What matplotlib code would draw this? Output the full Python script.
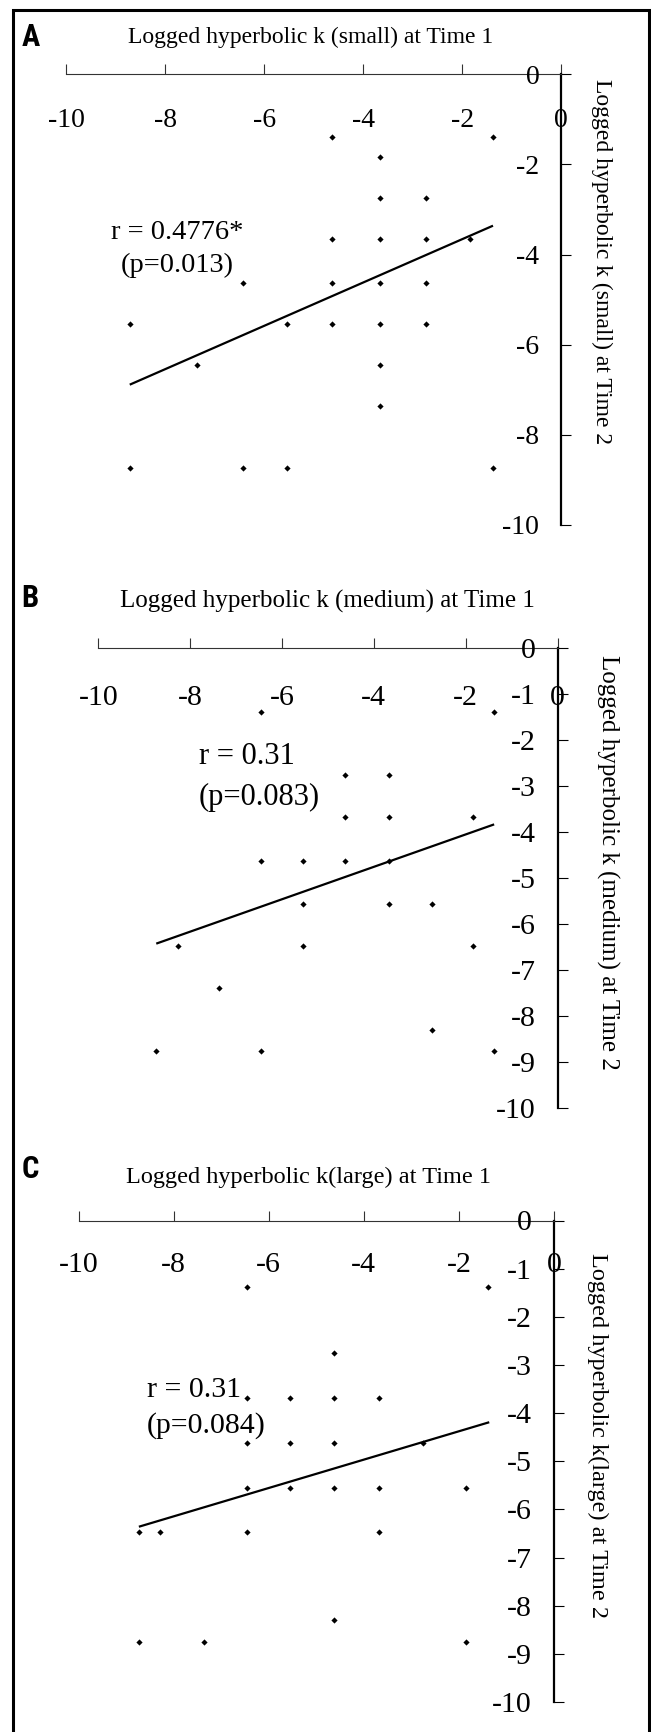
import numpy as np
import matplotlib
matplotlib.use("Agg")
import matplotlib.pyplot as plt
from matplotlib import font_manager
from matplotlib.lines import Line2D
from matplotlib.transforms import offset_copy

# ---- data (log k, Time 1 vs Time 2) ----
small_t1 = [-4.63, -1.38, -3.66, -3.66, -2.74, -4.63, -3.66, -2.74, -1.85,
            -6.44, -4.63, -3.66, -2.74, -8.72, -5.55, -4.63, -3.66, -2.74,
            -7.36, -3.66, -3.66, -8.72, -6.44, -5.55, -1.38]
small_t2 = [-1.38, -1.38, -1.84, -2.74, -2.74, -3.66, -3.66, -3.66, -3.66,
            -4.63, -4.63, -4.63, -4.63, -5.55, -5.55, -5.55, -5.55, -5.55,
            -6.45, -6.45, -7.37, -8.75, -8.75, -8.75, -8.75]

medium_t1 = [-6.45, -1.38, -4.62, -3.67, -4.62, -3.67, -1.84, -6.45, -5.55,
             -4.62, -3.67, -5.55, -3.67, -2.73, -8.27, -5.55, -1.84, -7.37,
             -2.73, -8.74, -6.45, -1.38]
medium_t2 = [-1.38, -1.38, -2.75, -2.75, -3.67, -3.67, -3.67, -4.63, -4.63,
             -4.63, -4.63, -5.56, -5.56, -5.56, -6.47, -6.47, -6.47, -7.38,
             -8.29, -8.75, -8.75, -8.75]

large_t1 = [-6.45, -1.39, -4.62, -6.45, -5.55, -4.62, -3.67, -6.45, -5.55,
            -4.62, -2.76, -6.45, -5.55, -4.62, -3.67, -1.84, -8.73, -8.28,
            -6.45, -3.67, -4.62, -8.73, -7.37, -1.84]
large_t2 = [-1.39, -1.39, -2.75, -3.68, -3.68, -3.68, -3.68, -4.63, -4.63,
            -4.63, -4.63, -5.56, -5.56, -5.56, -5.56, -5.56, -6.46, -6.46,
            -6.46, -6.46, -8.30, -8.75, -8.75, -8.75]

# fitted lines (slope, intercept) and the x span they cover
fit_small = (0.481, -2.696)
fit_medium = (0.352, -3.344)
fit_large = (0.2945, -3.789)
fit_span_small = [-8.72, -1.38]
fit_span_medium = [-8.74, -1.38]
fit_span_large = [-8.73, -1.36]

x_ticks = [-10, -8, -6, -4, -2, 0]
y_ticks_a = [0, -2, -4, -6, -8, -10]
y_ticks_bc = [0, -1, -2, -3, -4, -5, -6, -7, -8, -9, -10]

titles_x = ["Logged hyperbolic k (small) at Time 1",
            "Logged hyperbolic k (medium) at Time 1",
            "Logged hyperbolic k(large) at Time 1"]
titles_y = ["Logged hyperbolic k (small) at Time 2",
            "Logged hyperbolic k (medium) at Time 2",
            "Logged hyperbolic k(large) at Time 2"]
stats = ["r = 0.4776*\n(p=0.013)", "r = 0.31\n(p=0.083)", "r = 0.31\n(p=0.084)"]
letters = ["A", "B", "C"]

W, H = 651, 1733
SERIF = ["Liberation Serif", "DejaVu Serif"]

# narrow bold sans for the panel letters, if one is around
installed = {f.name for f in font_manager.fontManager.ttflist}
LETTER_FONT = next(n for n in ["Liberation Sans Narrow", "Roboto Condensed",
                               "Open Sans Condensed", "DejaVu Sans"]
                   if n in installed or n == "DejaVu Sans")

fig = plt.figure(figsize=(W / 100, H / 100), dpi=100)


def fx(px):
    return px / W


def fy(py):
    return 1 - py / H


# layout per panel (pixels): axes box, text anchors, font sizes
panels = [
    dict(box=(66.4, 561.3, 75.4, 525.7), xs=small_t1, ys=small_t2,
         fit=fit_small, span=fit_span_small, yt=y_ticks_a,
         letter=(31, 37), xt=(310.7, 37.7, 17), yl=(602, 261.5, 17),
         stat=(177, 249, 'center', 20.5, 1.45), tick=20, xoff=52),
    dict(box=(98.4, 557.5, 649.1, 1109.4), xs=medium_t1, ys=medium_t2,
         fit=fit_medium, span=fit_span_medium, yt=y_ticks_bc,
         letter=(30, 598), xt=(327, 601.8, 18), yl=(608, 862, 18),
         stat=(199, 777, 'left', 22, 1.55), tick=21.5, xoff=56),
    dict(box=(78.5, 553.9, 1221.5, 1703), xs=large_t1, ys=large_t2,
         fit=fit_large, span=fit_span_large, yt=y_ticks_bc,
         letter=(30, 1169), xt=(309, 1177, 17.5), yl=(598, 1436, 17.5),
         stat=(147, 1408, 'left', 21.5, 1.4), tick=21.5, xoff=50),
]

for i, p in enumerate(panels):
    left, right, top, bottom = p["box"]
    ax = fig.add_axes([fx(left), fy(bottom), fx(right - left), (bottom - top) / H])
    ax.set_xlim(-10, 0)
    ax.set_ylim(-10, 0)
    ax.patch.set_alpha(0)

    # axes cross at the top-right corner (Excel style)
    ax.spines["left"].set_visible(False)
    ax.spines["bottom"].set_visible(False)
    ax.spines["top"].set_linewidth(0.8)
    ax.spines["top"].set_color("#333333")
    ax.spines["right"].set_linewidth(1.6)
    ax.xaxis.set_ticks_position("top")
    ax.yaxis.set_ticks_position("right")
    ax.set_xticks(x_ticks)
    ax.set_yticks(p["yt"])
    ax.tick_params(axis="x", direction="out", length=7.5, width=0.8,
                   color="#333333", labeltop=False, labelbottom=False)
    ax.tick_params(axis="y", direction="out", length=7, width=0.8,
                   labelright=False, labelleft=False)

    # tick labels sit inside the plot area
    tx = offset_copy(ax.transData, fig=fig, y=-p["xoff"], units="dots")
    for v in x_ticks:
        ax.text(v, 0, f"{v}", transform=tx, ha="center", va="baseline",
                fontsize=p["tick"], family=SERIF, clip_on=False)
    ty = offset_copy(ax.transData, fig=fig, x=-22, y=-2, units="dots")
    for v in p["yt"]:
        ax.text(0, v, f"{v}", transform=ty, ha="right", va="center",
                fontsize=p["tick"], family=SERIF, clip_on=False)

    ax.scatter(p["xs"], p["ys"], marker="D", s=10, color="black",
               linewidths=0, zorder=3, clip_on=False)
    fx_line = np.array(p["span"])
    ax.plot(fx_line, np.polyval(p["fit"], fx_line), color="black", lw=1.6,
            solid_capstyle="butt", zorder=4)

    lx, ly = p["letter"]
    fig.text(fx(lx), fy(ly), letters[i], ha="center", va="center",
             fontsize=22, fontweight="bold", fontstretch="condensed",
             family=[LETTER_FONT])
    tx_, ty_, ts = p["xt"]
    fig.text(fx(tx_), fy(ty_), titles_x[i], ha="center", va="center",
             fontsize=ts, family=SERIF)
    yx, yy, ys = p["yl"]
    fig.text(fx(yx), fy(yy), titles_y[i], ha="center", va="center",
             rotation=-90, fontsize=ys, family=SERIF)
    sx, sy, sha, ss, lsp = p["stat"]
    fig.text(fx(sx), fy(sy), stats[i], ha=sha, va="center", multialignment=sha,
             fontsize=ss, family=SERIF, linespacing=lsp)

# frame around the whole figure (open at the bottom)
fig.add_artist(Line2D([fx(12.5), fx(12.5), fx(648.5), fx(648.5)],
                      [0, fy(11), fy(11), 0], transform=fig.transFigure,
                      color="black", lw=2.2, solid_joinstyle="miter"))

fig.savefig("out.png", dpi=100)
